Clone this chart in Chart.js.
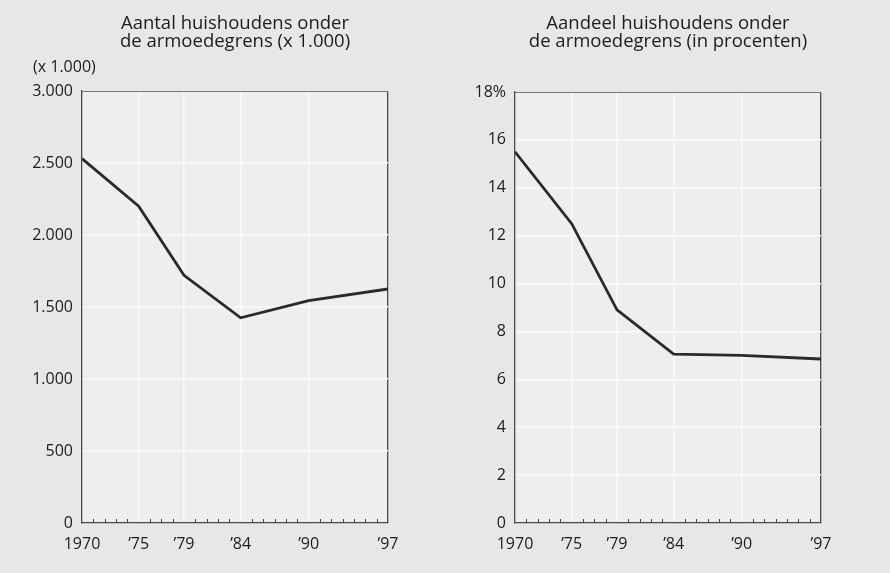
<!DOCTYPE html>
<html lang="nl">
<head>
<meta charset="utf-8">
<title>Huishoudens onder de armoedegrens</title>
<script src="https://cdn.jsdelivr.net/npm/chart.js@4.4.1/dist/chart.umd.min.js"></script>
<style>
  html, body { margin: 0; padding: 0; background: #e7e7e7; }
  #pagina { position: relative; width: 890px; height: 573px; overflow: hidden; }
  .grafiek { position: absolute; top: 0; width: 445px; height: 573px; }
</style>
</head>
<body>
<div id="pagina">
  <div class="grafiek" style="left:0"><canvas id="grafiekAantal" width="445" height="573"></canvas></div>
  <div class="grafiek" style="left:445px"><canvas id="grafiekAandeel" width="445" height="573"></canvas></div>
</div>
<script>
const jaren = [1970, 1975, 1979, 1984, 1990, 1997];
const jaarLabels = ["1970", "’75", "’79", "’84", "’90", "’97"];
const aantalHuishoudens = [2530, 2200, 1720, 1425, 1545, 1625];   // x 1.000
const aandeelHuishoudens = [15.5, 12.5, 8.9, 7.05, 7.0, 6.85];    // procent
const titelAantal = ["Aantal huishoudens onder", "de armoedegrens (x 1.000)"];
const titelAandeel = ["Aandeel huishoudens onder", "de armoedegrens (in procenten)"];
const eenheidAantal = "(x 1.000)";

Chart.defaults.font.family = "'Open Sans', sans-serif";
Chart.defaults.font.size = 16;
Chart.defaults.color = "#1c1c1c";

const GEEN = "rgba(0,0,0,0)";
const RAND = "#4a4a4a";
const RASTER = "#f9f9f9";

function puntjes(v) {
  return String(v).replace(/\B(?=(\d{3})+(?!\d))/g, ".");
}

const kaderPlugin = {
  id: "kader",
  beforeDraw(chart) {
    const { ctx, chartArea: a } = chart;
    ctx.save();
    ctx.fillStyle = "#eeeeee";
    ctx.fillRect(a.left, a.top, a.right - a.left, a.bottom - a.top);
    ctx.restore();
  },
  afterDraw(chart, args, opts) {
    const { ctx, chartArea: a, scales } = chart;
    ctx.save();
    // kleine streepjes voor elk jaar langs de onderrand
    ctx.strokeStyle = "#444";
    ctx.lineWidth = 1;
    for (let j = jaren[0] + 1; j < jaren[jaren.length - 1]; j++) {
      if (jaren.includes(j)) continue;
      const x = Math.round(scales.x.getPixelForValue(j)) + 0.5;
      ctx.beginPath();
      ctx.moveTo(x, a.bottom);
      ctx.lineTo(x, a.bottom - 4);
      ctx.stroke();
    }
    // titel gecentreerd boven het plotvlak
    ctx.fillStyle = "#1c1c1c";
    ctx.font = "18.5px 'Open Sans', sans-serif";
    ctx.textAlign = "center";
    ctx.textBaseline = "alphabetic";
    const midden = (a.left + a.right) / 2;
    opts.titel.forEach((regel, i) => ctx.fillText(regel, midden, 29 + i * 18));
    if (opts.eenheid) {
      ctx.font = "16px 'Open Sans', sans-serif";
      ctx.textAlign = "left";
      ctx.fillText(opts.eenheid, 33, 72);
    }
    ctx.restore();
  }
};

function maakGrafiek(id, waarden, yMax, yStap, yFormaat, asBreedte, rechts, boven, titel, eenheid) {
  const punten = jaren.map((j, i) => ({ x: j, y: waarden[i] }));
  return new Chart(document.getElementById(id), {
    type: "line",
    data: {
      datasets: [{
        data: punten,
        borderColor: "#2a2a2a",
        borderWidth: 2.8,
        pointRadius: 0,
        tension: 0,
        fill: false
      }]
    },
    options: {
      responsive: false,
      animation: false,
      layout: { padding: { left: 0, right: rechts, top: boven, bottom: 0 } },
      plugins: {
        legend: { display: false },
        tooltip: { enabled: false },
        kader: { titel: titel, eenheid: eenheid }
      },
      scales: {
        x: {
          type: "linear",
          min: jaren[0],
          max: jaren[jaren.length - 1],
          afterFit: s => { s.height = 50; },
          border: { display: true, color: RAND, width: 1.3 },
          grid: {
            drawTicks: false,
            color: c => {
              const v = c.tick && c.tick.value;
              if (v === jaren[jaren.length - 1]) return RAND;
              if (v !== jaren[0] && jaren.includes(v)) return RASTER;
              return GEEN;
            },
            lineWidth: c => (c.tick && c.tick.value === jaren[jaren.length - 1]) ? 1.3 : 1.5
          },
          ticks: {
            stepSize: 1,
            autoSkip: false,
            maxRotation: 0,
            padding: 12,
            callback: v => {
              const i = jaren.indexOf(v);
              return i >= 0 ? jaarLabels[i] : "";
            }
          }
        },
        y: {
          min: 0,
          max: yMax,
          afterFit: s => { s.width = asBreedte; },
          border: { display: true, color: RAND, width: 1.3 },
          grid: {
            drawTicks: false,
            color: c => {
              const v = c.tick && c.tick.value;
              if (v === yMax) return "#777";
              if (v === 0) return GEEN;
              return RASTER;
            },
            lineWidth: c => (c.tick && c.tick.value === yMax) ? 1 : 1.5
          },
          ticks: {
            stepSize: yStap,
            padding: 9,
            callback: yFormaat
          }
        }
      }
    },
    plugins: [kaderPlugin]
  });
}

maakGrafiek("grafiekAantal", aantalHuishoudens, 3000, 500, v => puntjes(v),
  82, 57, 91, titelAantal, eenheidAantal);
maakGrafiek("grafiekAandeel", aandeelHuishoudens, 18, 2, v => (v === 18 ? "18%" : v),
  70, 69, 92, titelAandeel, null);
</script>
</body>
</html>
